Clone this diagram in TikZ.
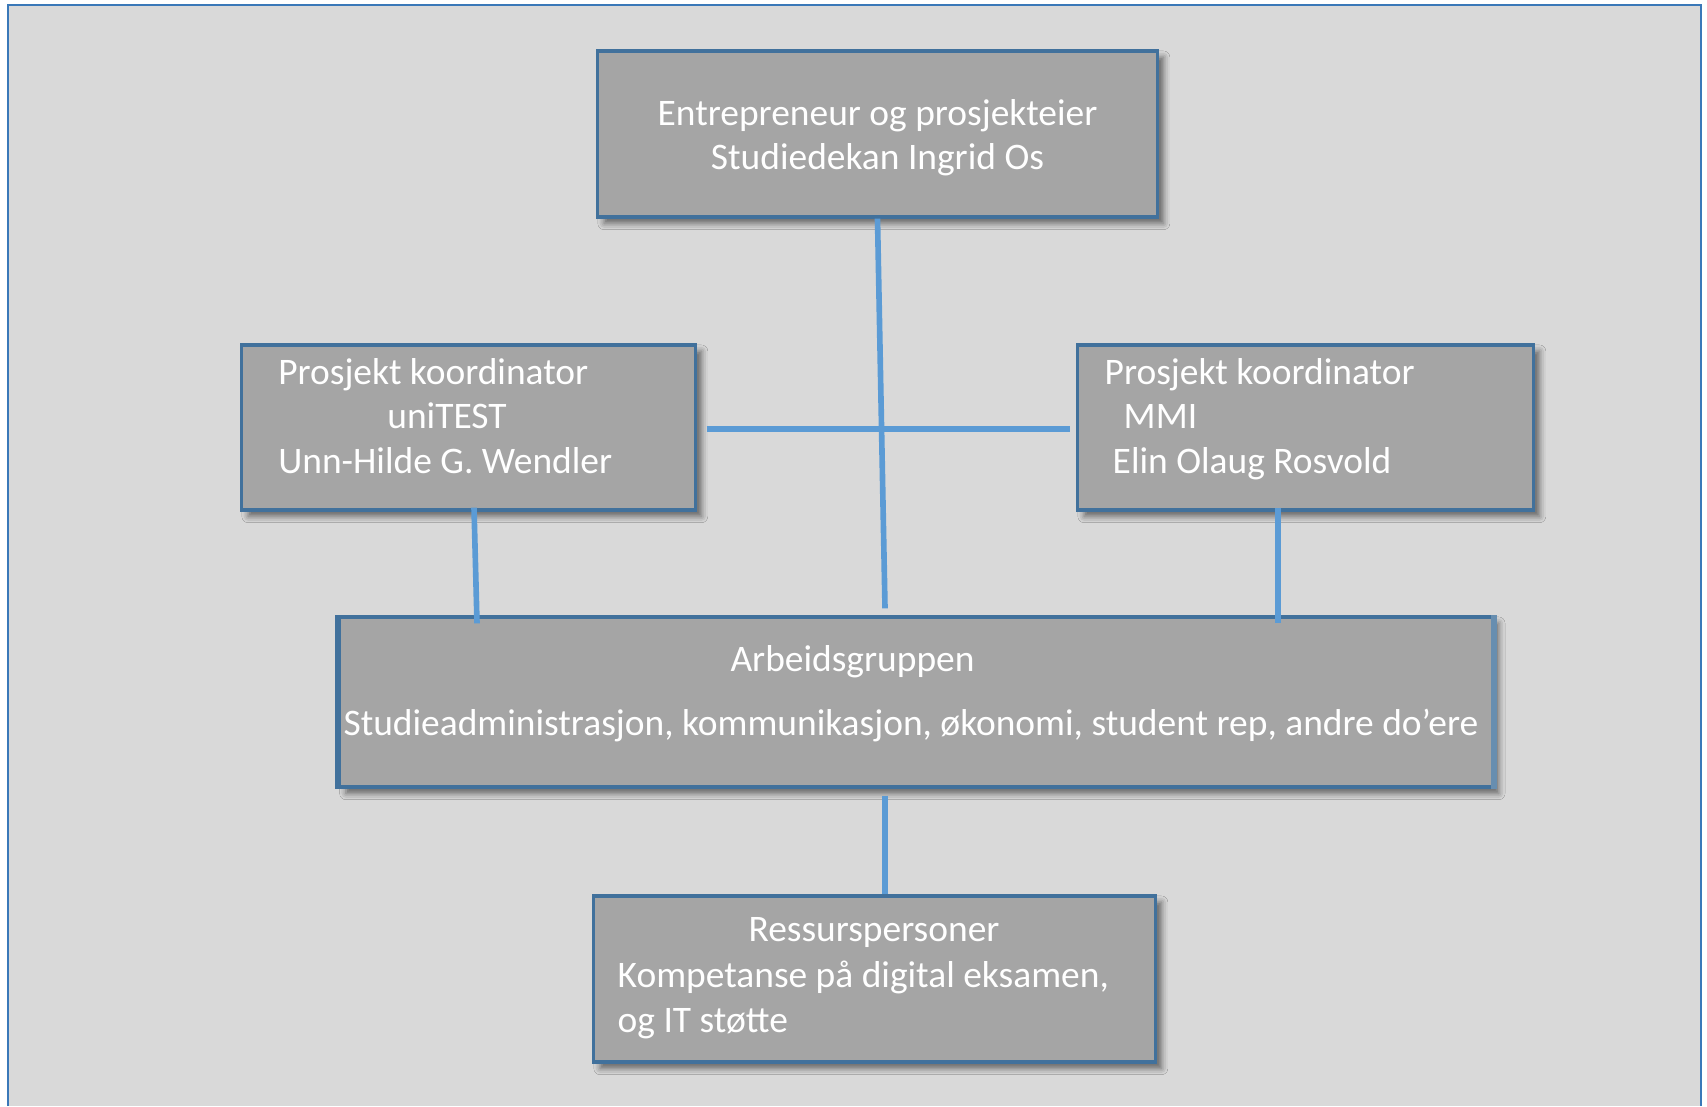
\documentclass[tikz,border=0pt]{standalone}
\usepackage{fontspec}
\setmainfont{Carlito}
\usetikzlibrary{calc,shadows.blur}
\definecolor{bakgrunn}{HTML}{D9D9D9}
\definecolor{boksfyll}{HTML}{A5A5A5}
\definecolor{bokskant}{HTML}{41719C}
\definecolor{linje}{HTML}{5B9BD5}
\definecolor{ramme}{HTML}{3A78B8}
\tikzset{
  boks/.style={draw=bokskant, line width=0.9pt, fill=boksfyll, inner sep=0pt,
    blur shadow={shadow xshift=1.8pt, shadow yshift=-1.8pt, shadow blur radius=1.8pt, shadow opacity=55}},
  tekst/.style={text=white, font=\fontsize{10.65}{12.6}\selectfont, inner sep=0pt},
  link/.style={draw=linje, line width=1.6pt},
}
\begin{document}
\begin{tikzpicture}[x=0.01cm, y=-0.01cm]
  \useasboundingbox (0,0) rectangle (1707,1106);
  \fill[white] (0,0) rectangle (1707,1106);
  \fill[bakgrunn] (8,5) rectangle (1701,1106);
  \draw[ramme, line width=0.8pt] (8,1106) -- (8,5) -- (1701,5) -- (1701,1106);

  \node[boks, minimum width=5.59cm, minimum height=1.66cm] (leder) at (877.5,134) {};
  \node[boks, minimum width=4.53cm, minimum height=1.65cm] (koordA) at (468.5,427.5) {};
  \node[boks, minimum width=4.55cm, minimum height=1.65cm] (koordB) at (1305.5,427.5) {};
  \node[boks, minimum width=11.52cm, minimum height=1.70cm] (arbeid) at (916,702) {};
  \node[boks, minimum width=5.61cm, minimum height=1.66cm] (ressurs) at (874.5,979) {};
  \draw[bokskant, line width=1.6pt] (arbeid.north west) -- (arbeid.south west);
  \draw[bokskant!80, line width=1.8pt] (arbeid.north east) -- (arbeid.south east);

  \node[tekst, align=center] (ledertekst) at (877.5,138)
    {Entrepreneur og prosjekteier\\Studiedekan Ingrid Os};
  \node[tekst, align=left, anchor=west] (koordAtekst) at (277.6,416)
    {Prosjekt koordinator\\\hspace*{1.09cm}uniTEST\\Unn-Hilde G. Wendler};
  \node[tekst, align=left, anchor=west] (koordBtekst) at (1104,419)
    {Prosjekt koordinator\\\hspace*{0.19cm}MMI\\\hspace*{0.08cm}Elin Olaug Rosvold};
  \node[tekst, anchor=base] (arbeidtittel) at (852.5,671) {Arbeidsgruppen};
  \node[tekst, anchor=base] (arbeidtekst) at (911,735)
    {Studieadministrasjon, kommunikasjon, økonomi, student rep, andre do’ere};
  \node[tekst, anchor=base] (ressurstittel) at (874,941) {Ressurspersoner};
  \node[tekst, align=left, anchor=west] (ressurstekst) at (617,1000)
    {Kompetanse på digital eksamen,\\og IT støtte};

  \begin{scope}[link]
    \draw (leder.south) -- ($(arbeid.north)+(-31,-7)$);
    \draw ($(koordA.east)+(10,1.5)$) -- ($(koordB.west)+(-6,1.5)$);
    \draw ($(koordA.south)+(5.5,-4)$) -- ($(koordA.south |- arbeid.north)+(8.5,8)$);
    \draw ($(koordB.south)+(-27.5,-4)$) -- ($(koordB.south |- arbeid.north)+(-27.5,8)$);
    \draw ($(arbeid.south)+(-31,7)$) -- ($(ressurs.north)+(10.5,0)$);
  \end{scope}
\end{tikzpicture}
\end{document}
